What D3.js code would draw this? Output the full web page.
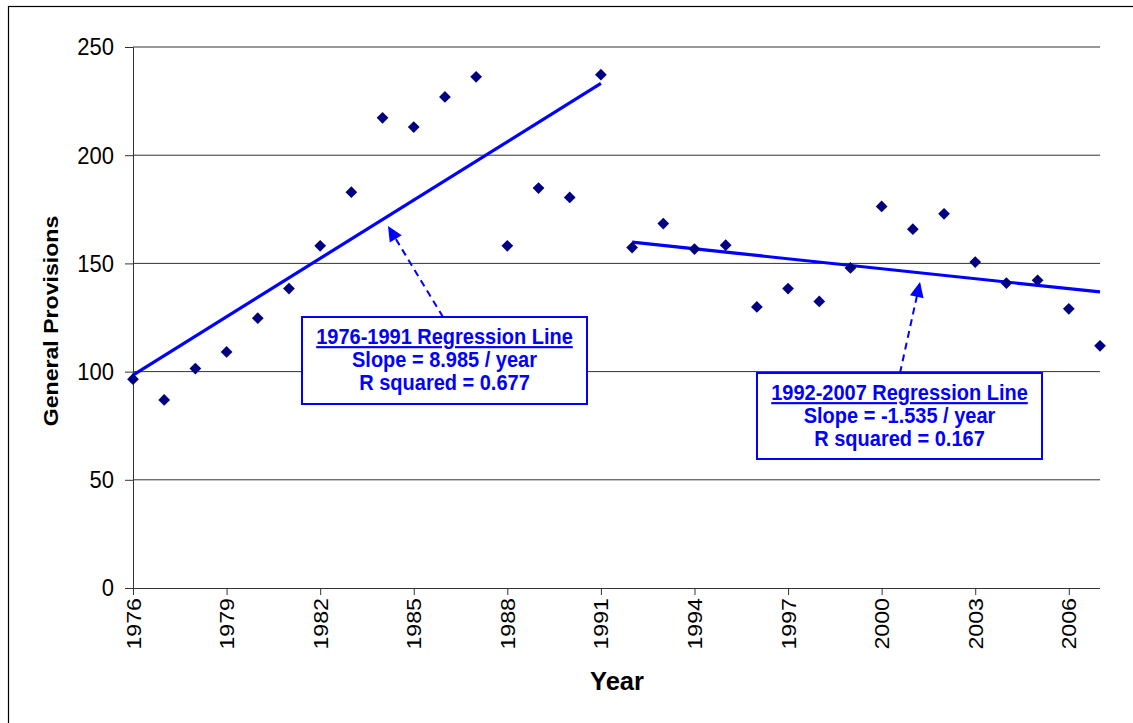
<!DOCTYPE html>
<html><head><meta charset="utf-8">
<script src="https://cdn.jsdelivr.net/npm/d3@7"></script>
<style>
html,body{margin:0;padding:0;background:#fff;}
svg{display:block;font-family:"Liberation Sans",Arial,sans-serif;}
</style></head>
<body><svg id="chart" width="1133" height="723"></svg>
<script>
const years = d3.range(1976, 2008);
const provisions = [96.5, 86.9, 101.4, 109.1, 124.7, 138.4, 158.1, 182.9, 217.3, 213.0, 226.9, 236.2, 158.1, 184.8, 180.5, 237.2,
                    157.3, 168.4, 156.6, 158.4, 129.9, 138.4, 132.4, 147.9, 176.3, 165.8, 172.9, 150.6, 140.9, 142.2, 129.0, 111.9];
const reg1Years = [1976, 1991];
const reg1Values = [98.4, 233.2];
const reg2Years = [1992, 2007];
const reg2Values = [159.8, 136.8];
const yTicks = [0, 50, 100, 150, 200, 250];
const xTicks = [1976, 1979, 1982, 1985, 1988, 1991, 1994, 1997, 2000, 2003, 2006];
const note1 = ["1976-1991 Regression Line", "Slope = 8.985 / year", "R squared = 0.677"];
const note2 = ["1992-2007 Regression Line", "Slope = -1.535 / year", "R squared = 0.167"];

const svg = d3.select("#chart");
const x = d3.scaleLinear().domain([1976, 2007]).range([133, 1100]);
const y = d3.scaleLinear().domain([0, 250]).range([588, 47]);
const FONT = "'Liberation Sans', Arial, sans-serif";

// outer border
svg.append("rect").attr("x", 8.5).attr("y", 6.5).attr("width", 1140).attr("height", 740)
  .attr("fill", "none").attr("stroke", "#000").attr("stroke-width", 1.2);

// gridlines
svg.append("g").selectAll("line").data(yTicks.filter(d => d > 0)).join("line")
  .attr("x1", x(1976)).attr("x2", x(2007)).attr("y1", d => y(d)).attr("y2", d => y(d))
  .attr("stroke", "#333").attr("stroke-width", 1);

// axes
const yAxis = svg.append("g").attr("transform", `translate(${x(1976)},0)`)
  .call(d3.axisLeft(y).tickValues(yTicks).tickSize(8).tickPadding(11).tickFormat(d3.format("d")));
const xAxis = svg.append("g").attr("transform", `translate(0,${y(0)})`)
  .call(d3.axisBottom(x).tickValues(xTicks).tickSize(7).tickFormat(d3.format("d")));
[yAxis, xAxis].forEach(g => {
  g.attr("font-size", null).attr("font-family", null);
  g.select(".domain").attr("stroke", "#333");
  g.selectAll(".tick line").attr("stroke", "#333");
  g.selectAll("text").attr("fill", "#000").style("font-family", FONT);
});
xAxis.select(".domain").attr("d", `M${x(1976)},0.5H${x(2007)}`);
yAxis.selectAll(".tick text").style("font-size", "22px")
  .attr("transform", "scale(1,1.12)");
xAxis.selectAll(".tick text").style("font-size", "20px")
  .attr("transform", "rotate(-90) scale(1.16,1)")
  .attr("text-anchor", "end")
  .attr("x", -10 / 1.16).attr("y", 0).attr("dy", "0.35em");

// axis titles
svg.append("text").attr("transform", `translate(58,${321}) rotate(-90) scale(1.1,1)`)
  .attr("text-anchor", "middle").style("font-size", "21px").attr("font-weight", "bold")
  .text("General Provisions");
svg.append("text").attr("x", 617).attr("y", 690).attr("text-anchor", "middle")
  .style("font-size", "25.5px").attr("font-weight", "bold").text("Year");

// regression lines
const line = d3.line().x(d => x(d[0])).y(d => y(d[1]));
[[reg1Years, reg1Values], [reg2Years, reg2Values]].forEach(([ys, vs]) => {
  svg.append("path").datum(d3.zip(ys, vs)).attr("d", line)
    .attr("fill", "none").attr("stroke", "#0000ff").attr("stroke-width", 3.2);
});

// points
svg.append("g").selectAll("path").data(d3.zip(years, provisions)).join("path")
  .attr("d", d3.symbol().type(d3.symbolDiamond2).size(88))
  .attr("transform", d => `translate(${x(d[0])},${y(d[1])})`)
  .attr("fill", "#000080");

function note(lines, bx, by, bw, bh, ax0, ay0, ax1, ay1) {
  svg.append("line").attr("x1", ax0).attr("y1", ay0).attr("x2", ax1).attr("y2", ay1)
    .attr("stroke", "#0000ff").attr("stroke-width", 2).attr("stroke-dasharray", "7,5");
  const ang = Math.atan2(ay1 - ay0, ax1 - ax0);
  const L = 15, W = 7;
  const bxp = ax1 - L * Math.cos(ang), byp = ay1 - L * Math.sin(ang);
  svg.append("path").attr("d", `M${ax1},${ay1}L${bxp + W * Math.sin(ang)},${byp - W * Math.cos(ang)}L${bxp - W * Math.sin(ang)},${byp + W * Math.cos(ang)}Z`)
    .attr("fill", "#0000ff");
  svg.append("rect").attr("x", bx).attr("y", by).attr("width", bw).attr("height", bh)
    .attr("fill", "#fff").attr("stroke", "#0000ff").attr("stroke-width", 2);
  lines.forEach((s, i) => {
    svg.append("text").attr("text-anchor", "middle").style("font-size", "20px")
      .attr("font-weight", "bold").attr("fill", "#0000ff")
      .attr("transform", `translate(${bx + bw / 2},${by + 27 + i * 23}) scale(1,1.08)`)
      .attr("text-decoration", i === 0 ? "underline" : null).text(s);
  });
}
note(note1, 302, 317, 285, 87, 443, 317, 388, 226);
note(note2, 757, 373, 285, 86, 900, 373, 920, 282);
</script></body></html>
